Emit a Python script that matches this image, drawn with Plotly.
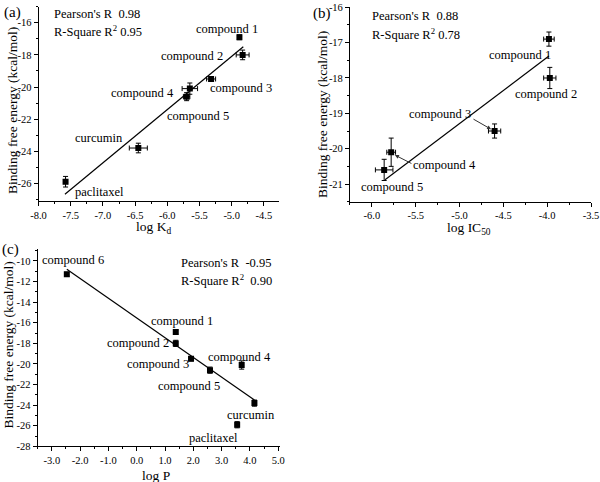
import plotly.graph_objects as go

FONT = "Liberation Serif, Times New Roman, Times, serif"

# ---------------- data ----------------
# Panel (a): log Kd vs binding free energy
names_a = ["compound 1", "compound 2", "compound 3", "compound 4", "compound 5", "curcumin", "paclitaxel"]
logkd_a = [-4.88, -4.83, -5.32, -5.65, -5.70, -6.45, -7.58]
energy_a = [-16.9, -18.0, -19.5, -20.1, -20.6, -23.8, -25.9]
xerr_a = [0.03, 0.10, 0.07, 0.12, 0.05, 0.14, 0.03]
yerr_a = [0.15, 0.3, 0.15, 0.35, 0.25, 0.3, 0.33]
fit_x_a = [-7.59, -4.82]
fit_y_a = [-26.68, -17.49]

# Panel (b): log IC50 vs binding free energy
names_b = ["compound 1", "compound 2", "compound 3", "compound 4", "compound 5"]
logic50_b = [-3.98, -3.97, -4.60, -5.78, -5.86]
energy_b = [-16.9, -18.0, -19.5, -20.1, -20.6]
xerr_b = [0.06, 0.07, 0.07, 0.05, 0.10]
yerr_b = [0.2, 0.3, 0.2, 0.4, 0.3]
fit_x_b = [-5.85, -3.98]
fit_y_b = [-20.88, -17.38]

# Panel (c): log P vs binding free energy
names_c = ["compound 6", "compound 1", "compound 2", "compound 3", "compound 4", "compound 5", "curcumin", "paclitaxel"]
logp_c = [-2.47, 1.38, 1.38, 1.92, 3.71, 2.59, 4.16, 3.55]
energy_c = [-11.3, -16.9, -18.0, -19.5, -20.1, -20.6, -23.8, -25.9]
yerr_c = [0.2, 0.2, 0.3, 0.2, 0.4, 0.3, 0.3, 0.3]
fit_x_c = [-2.47, 4.16]
fit_y_c = [-10.8, -23.5]

stats_a = ["Pearson's R\u00a0\u00a00.98", "R-Square R<sup>2</sup> 0.95"]
stats_b = ["Pearson's R\u00a0\u00a00.88", "R-Square R<sup>2</sup> 0.78"]
stats_c = ["Pearson's R\u00a0\u00a0-0.95", "R-Square R<sup>2</sup>\u00a0\u00a00.90"]

# tick labels
xt_a = [-8.0, -7.5, -7.0, -6.5, -6.0, -5.5, -5.0, -4.5]
yt_a = [-26, -24, -22, -20, -18, -16]
xt_b = [-6.0, -5.5, -5.0, -4.5, -4.0, -3.5]
yt_b = [-21, -20, -19, -18, -17, -16]
xt_c = [-3.0, -2.0, -1.0, 0.0, 1.0, 2.0, 3.0, 4.0, 5.0]
yt_c = [-28, -26, -24, -22, -20, -18, -16, -14, -12, -10]


def lab1(v):
    return ("-" if v < 0 else "") + f"{abs(v):.1f}"


def lab0(v):
    return ("-" if v < 0 else "") + f"{abs(v):d}"


# ---------------- label placement (data coords) ----------------
lblpos_a = {"compound 1": (-5.07, -16.39), "compound 2": (-5.61, -18.06), "compound 3": (-4.86, -20.07),
            "compound 4": (-6.385, -20.38), "compound 5": (-5.52, -21.81), "curcumin": (-7.06, -23.18),
            "paclitaxel": (-7.06, -26.54)}
lblpos_b = {"compound 1": (-4.305, -17.35), "compound 2": (-4.016, -18.44), "compound 3": (-5.224, -19.02),
            "compound 4": (-5.167, -20.47), "compound 5": (-5.775, -21.09)}
lblpos_c = {"compound 6": (-2.24, -9.93), "compound 1": (1.59, -15.85), "compound 2": (0.046, -18.01),
            "compound 3": (0.763, -19.98), "compound 4": (3.615, -19.34), "compound 5": (1.837, -22.17),
            "curcumin": (4.03, -24.95), "paclitaxel": (2.707, -27.14)}

fig = go.Figure()

err_style = dict(type="data", color="black", thickness=1, width=2.5)
mk = dict(symbol="square", size=6, color="black")


def add_panel(xv, yv, xe, ye, fx, fy, xa, ya):
    kw = dict(x=xv, y=yv, mode="markers", marker=mk, xaxis=xa, yaxis=ya, showlegend=False,
              error_y=dict(array=ye, **err_style))
    if xe is not None:
        kw["error_x"] = dict(array=xe, **err_style)
    fig.add_trace(go.Scatter(x=fx, y=fy, mode="lines", line=dict(color="black", width=1.2),
                             xaxis=xa, yaxis=ya, showlegend=False))
    fig.add_trace(go.Scatter(**kw))


add_panel(logkd_a, energy_a, xerr_a, yerr_a, fit_x_a, fit_y_a, "x", "y")
add_panel(logic50_b, energy_b, xerr_b, yerr_b, fit_x_b, fit_y_b, "x2", "y2")
add_panel(logp_c, energy_c, None, yerr_c, fit_x_c, fit_y_c, "x3", "y3")

tickfont = dict(family=FONT, size=10.5, color="black")


def axis(domain, rng, tv, tt, minor_dt, minor_t0, anchor):
    return dict(domain=domain, range=rng, anchor=anchor, showline=True, linecolor="black", linewidth=1,
                ticks="outside", ticklen=4, tickwidth=1, tickcolor="black", showgrid=False,
                zeroline=False, tickmode="array", tickvals=tv, ticktext=tt, tickfont=tickfont,
                automargin=False,
                minor=dict(ticks="outside", ticklen=2, tickwidth=1, tickcolor="black",
                           dtick=minor_dt, tick0=minor_t0, showgrid=False))


fig.update_layout(
    width=600, height=482,
    margin=dict(l=0, r=0, t=0, b=0, pad=0, autoexpand=False),
    paper_bgcolor="white", plot_bgcolor="white",
    font=dict(family=FONT, color="black"),
    xaxis=axis([0.0642, 0.4645], [-8.0, -4.27], xt_a, [lab1(v) for v in xt_a], 0.25, -8.0, "y"),
    yaxis=axis([0.583, 0.986], [-27.1, -15.0], yt_a, [lab0(v) for v in yt_a], 1, -16, "x"),
    xaxis2=axis([0.5833, 0.985], [-6.25, -3.5], xt_b, [lab1(v) for v in xt_b], 0.25, -6.0, "y2"),
    yaxis2=axis([0.5815, 0.9849], [-21.5, -16.0], yt_b, [lab0(v) for v in yt_b], 0.5, -16, "x2"),
    xaxis3=axis([0.0628, 0.466], [-3.5, 5.05], xt_c, [lab1(v) for v in xt_c], 0.5, -3.0, "y3"),
    yaxis3=axis([0.0739, 0.4842], [-28.0, -8.8], yt_c, [lab0(v) for v in yt_c], 1, -28, "x3"),
)

ann = []
lf = dict(family=FONT, size=12.5, color="black")


def add_labels(names, pos, xr, yr):
    for n in names:
        px, py = pos[n]
        ann.append(dict(x=px, y=py, xref=xr, yref=yr, text=n, showarrow=False, font=lf,
                        xanchor="center", yanchor="middle"))


add_labels(names_a, lblpos_a, "x", "y")
add_labels(names_b, lblpos_b, "x2", "y2")
add_labels(names_c, lblpos_c, "x3", "y3")

# stats text
for txt, yy in zip(stats_a, [-15.46, -16.52]):
    ann.append(dict(x=-7.795, y=yy, xref="x", yref="y", text=txt, showarrow=False, font=lf,
                    xanchor="left", yanchor="middle"))
for txt, yy in zip(stats_b, [-16.24, -16.76]):
    ann.append(dict(x=-6.023, y=yy, xref="x2", yref="y2", text=txt, showarrow=False, font=lf,
                    xanchor="left", yanchor="middle"))
for txt, yy in zip(stats_c, [-10.22, -11.84]):
    ann.append(dict(x=1.495, y=yy, xref="x3", yref="y3", text=txt, showarrow=False, font=lf,
                    xanchor="left", yanchor="middle"))

# arrows in panel (b)
for (tx, ty), (hx, hy) in [((-4.858, -19.14), (-4.64, -19.45)), ((-5.532, -20.44), (-5.737, -20.18))]:
    ann.append(dict(x=hx, y=hy, ax=tx, ay=ty, xref="x2", yref="y2", axref="x2", ayref="y2", text="",
                    showarrow=True, arrowhead=2, arrowsize=0.8, arrowwidth=1, arrowcolor="#333"))

tf = dict(family=FONT, size=13.5, color="black")
# y titles
for xx, yy in [(0.02, 0.7697), (0.5367, 0.7614), (0.014, 0.284)]:
    ann.append(dict(x=xx, y=yy, xref="paper", yref="paper", text="Binding free energy (kcal/mol)",
                    textangle=-90, showarrow=False, font=tf, xanchor="center", yanchor="middle"))
# x titles
for txt, xx, yy in [("log K<sub>d</sub>", 0.255, 0.527), ("log IC<sub>50</sub>", 0.7817, 0.525),
                    ("log P", 0.26, 0.0145)]:
    ann.append(dict(x=xx, y=yy, xref="paper", yref="paper", text=txt, showarrow=False, font=tf,
                    xanchor="center", yanchor="middle"))
# panel tags
pf = dict(family=FONT, size=15, color="black")
for txt, xx, yy in [("(a)", 0.003, 0.974), ("(b)", 0.519, 0.973), ("(c)", 0.0, 0.4834)]:
    ann.append(dict(x=xx, y=yy, xref="paper", yref="paper", text=txt, showarrow=False, font=pf,
                    xanchor="left", yanchor="middle"))

fig.update_layout(annotations=ann)
fig.write_html("out.html", config={"displayModeBar": False},
               post_script="document.body.style.margin='0';")
